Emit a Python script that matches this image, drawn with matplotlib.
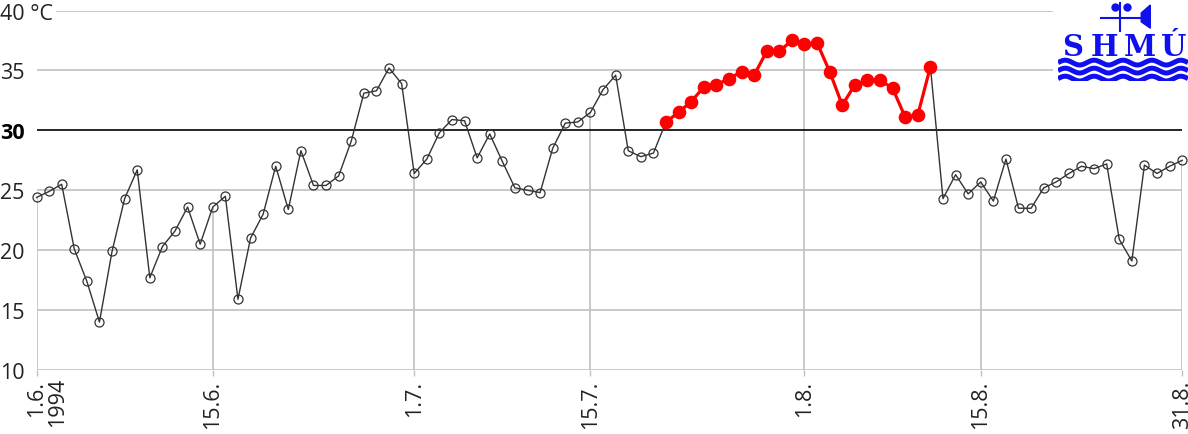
import numpy as np
import matplotlib
matplotlib.use("Agg")
import matplotlib.pyplot as plt

# Daily maximum temperature, 1.6.1994 - 31.8.1994 (°C)
temps = [24.4, 24.9, 25.5, 20.1, 17.4, 14.0, 19.9, 24.3, 26.7, 17.7,
         20.3, 21.6, 23.6, 20.5, 23.6, 24.5, 15.9, 21.0, 23.0, 27.0,
         23.4, 28.3, 25.4, 25.4, 26.2, 29.1, 33.1, 33.3, 35.2, 33.9,
         26.4, 27.6, 29.8, 30.9, 30.8, 27.7, 29.7, 27.4, 25.2, 25.0,
         24.8, 28.5, 30.6, 30.7, 31.5, 33.4, 34.6, 28.3, 27.8, 28.1,
         30.7, 31.5, 32.4, 33.6, 33.8, 34.3, 34.9, 34.6, 36.6, 36.6,
         37.5, 37.2, 37.3, 34.9, 32.1, 33.8, 34.2, 34.2, 33.5, 31.1,
         31.3, 35.3, 24.3, 26.3, 24.7, 25.7, 24.1, 27.6, 23.5, 23.5,
         25.2, 25.7, 26.4, 27.0, 26.8, 27.2, 20.9, 19.1, 27.1, 26.4,
         27.0, 27.5]

# heat wave (red) - first and last day index
heat_first = 50
heat_last = 71

# x ticks (day index from 1.6.) and labels
tick_days = [0, 14, 30, 44, 61, 75, 91]
tick_labels = ["1.6.", "15.6.", "1.7.", "15.7.", "1.8.", "15.8.", "31.8."]
year_label = "1994"

y_ticks = [10, 15, 20, 25, 30, 35, 40]
y_labels = ["10", "15", "20", "25", "30", "35", "40 °C"]

W, H = 1188, 435
plt.rcParams['font.family'] = ['Open Sans', 'DejaVu Sans']
FS = 15.5
txt_c = "#222222"

fig = plt.figure(figsize=(W / 100, H / 100), dpi=100)
ax = fig.add_axes([36.5 / W, (H - 371) / H, 1145.7 / W, 359.5 / H])

days = np.arange(len(temps))
t = np.array(temps)
ax.set_xlim(0, len(temps) - 1)
ax.set_ylim(10, 40)

grid_c = "#c0c0c0"
# horizontal grid lines (upper two stop before the logo)
for v in [10, 15, 20, 25]:
    ax.hlines(v, 0, 91, color=grid_c, lw=1.2, zorder=1)
ax.hlines(35, 0, 80.7, color=grid_c, lw=1.2, zorder=1)
ax.hlines(40, 1.55, 80.7, color=grid_c, lw=1.2, zorder=1)
ax.hlines(30, 0, 91, color="black", lw=1.2, zorder=2)

# drop lines from the labelled days
ax.vlines(tick_days, 10, t[tick_days], color=grid_c, lw=1.2, zorder=1)

# whole series
ax.plot(days, t, color="#333333", lw=1.0, marker="o", ms=6.5,
        mfc="none", mec="#333333", mew=0.9, zorder=3, clip_on=False)

# heat wave
hd = days[heat_first:heat_last + 1]
ax.plot(hd, t[heat_first:heat_last + 1], color="red", lw=2.3, marker="o",
        ms=8.8, mfc="red", mec="red", zorder=4, clip_on=False)

for s in ax.spines.values():
    s.set_visible(False)

ax.set_yticks(y_ticks)
ax.set_yticklabels(y_labels)
ax.tick_params(axis="y", length=0, pad=26.3, labelsize=FS, labelcolor=txt_c)
for lbl in ax.get_yticklabels():
    lbl.set_horizontalalignment("left")
    if lbl.get_text() == "30":
        lbl.set_fontweight("bold")
        lbl.set_color("black")

ax.set_xticks(tick_days)
ax.set_xticklabels(tick_labels, rotation=90, va="top", ha="center")
ax.tick_params(axis="x", length=4, width=1, color=grid_c, pad=3,
               labelsize=FS, labelcolor=txt_c)
ax.text(1.65, 10, year_label, rotation=90, ha="center", va="top",
        fontsize=FS, color=txt_c,
        transform=ax.transData + matplotlib.transforms.ScaledTranslation(0, -7 / 100, fig.dpi_scale_trans),
        clip_on=False)

# SHMU logo
blue = "#1010ee"
lg = fig.add_axes([1058 / W, (H - 82) / H, 130 / W, 80 / H])
lg.set_xlim(0, 1)
lg.set_ylim(0, 1)
lg.axis("off")
for x0, ch in zip([0.11, 0.36, 0.63, 0.89], "SHMÚ"):
    lg.text(x0, 0.43, ch, ha="center", va="center",
            fontsize=21, fontweight="heavy", color=blue, family="DejaVu Serif")
xs = np.linspace(0.0, 1.0, 200)
for k in range(3):
    lg.plot(xs, 0.23 - k * 0.1 + 0.03 * np.sin(xs * 2 * np.pi * 4.5),
            color=blue, lw=3.6, solid_capstyle="butt")
# wind vane
lg.plot([0.48, 0.48], [0.62, 0.98], color=blue, lw=1.5)
lg.plot([0.33, 0.70], [0.79, 0.79], color=blue, lw=1.5)
lg.fill([0.64, 0.71, 0.71, 0.64], [0.74, 0.66, 0.95, 0.85], color=blue)
lg.plot([0.44, 0.53], [0.93, 0.93], "o", color=blue, ms=5)

fig.savefig("out.png", dpi=100)
